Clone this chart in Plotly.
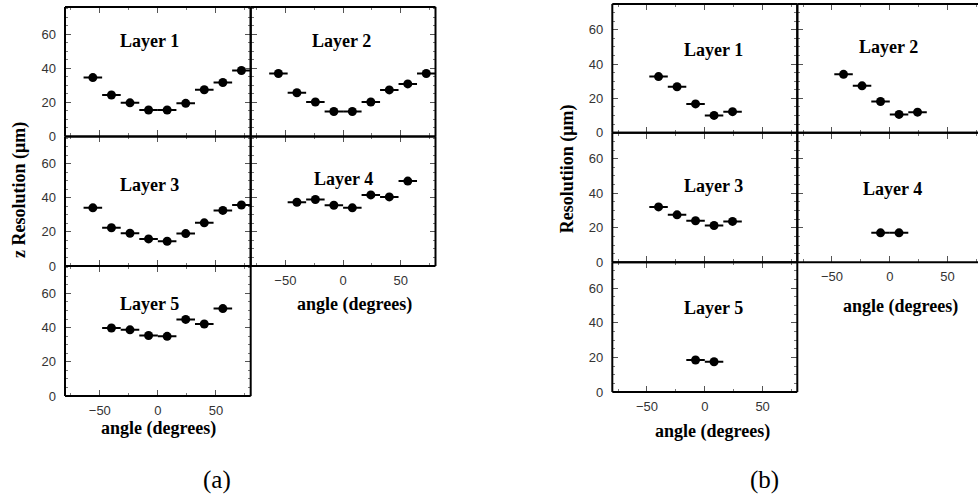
import plotly.graph_objects as go

# ---------------- data ----------------
angles_9 = [-56, -40, -24, -8, 8, 24, 40, 56, 72]
angles_7 = [-40, -24, -8, 8, 24, 40, 56]
angles_5 = [-40, -24, -8, 8, 24]
angles_2 = [-8, 8]
bin_half_width = 8

a_layer1 = [34.5, 24.3, 19.7, 15.5, 15.5, 19.4, 27.4, 31.6, 38.7]
a_layer2 = [36.9, 25.6, 20.2, 14.6, 14.6, 20.2, 27.3, 30.8, 36.9]
a_layer3 = [34.1, 22.4, 19.2, 15.9, 14.5, 19.0, 25.3, 32.6, 35.8]
a_layer4 = [37.4, 39.0, 35.6, 34.1, 41.7, 40.5, 49.8]
a_layer5 = [39.8, 38.7, 35.4, 34.9, 44.8, 42.1, 51.1]

b_layer1 = [32.7, 26.8, 16.8, 10.1, 12.3]
b_layer2 = [34.0, 27.3, 18.2, 10.7, 12.0]
b_layer3 = [32.1, 27.5, 24.1, 21.3, 23.7]
b_layer4 = [17.1, 17.1]
b_layer5 = [18.5, 17.5]

layer_names = ["Layer 1", "Layer 2", "Layer 3", "Layer 4", "Layer 5"]
x_ticks = [-50, 0, 50]
y_ticks = [0, 20, 40, 60]

# ---------------- layout helpers ----------------
W, H = 978, 503
def fx(px):
    return px / W
def fy(py):
    return 1 - py / H

SERIF = "'Liberation Serif', 'Times New Roman', serif"
SANS = "'Liberation Sans', Arial, sans-serif"

a_cols = [(65, 250.7), (250.7, 435.5)]
a_rows = [(7, 138.6), (138.6, 270.3), (270.3, 402.5)]
b_cols = [(612.3, 797.3), (797.3, 978)]
b_rows = [(4, 134.9), (134.9, 266.6), (266.6, 398.3)]

panels = [
    (angles_9, a_layer1, 0, a_cols[0], a_rows[0], [-80, 80], [0, 76], False, True, (-7, 56), True),
    (angles_9, a_layer2, 1, a_cols[1], a_rows[0], [-80, 80], [0, 76], False, False, (-1, 56), True),
    (angles_9, a_layer3, 2, a_cols[0], a_rows[1], [-80, 80], [0, 76], False, True, (-7, 47.5), True),
    (angles_7, a_layer4, 3, a_cols[1], a_rows[1], [-80, 80], [0, 76], True, False, (0, 51), True),
    (angles_7, a_layer5, 4, a_cols[0], a_rows[2], [-80, 80], [0, 76], True, True, (-7, 54), True),
    (angles_5, b_layer1, 0, b_cols[0], b_rows[0], [-80, 80], [0, 75], False, True, (7.5, 48), True),
    (angles_5, b_layer2, 1, b_cols[1], b_rows[0], [-80, 76.3], [0, 75], False, False, (-1.5, 50), False),
    (angles_5, b_layer3, 2, b_cols[0], b_rows[1], [-80, 80], [0, 75], False, True, (7.5, 44), True),
    (angles_2, b_layer4, 3, b_cols[1], b_rows[1], [-80, 76.3], [0, 75], True, False, (2, 42.7), False),
    (angles_2, b_layer5, 4, b_cols[0], b_rows[2], [-80, 80], [0, 75], True, True, (7.5, 48.7), True),
]

fig = go.Figure()
layout = dict(
    width=W, height=H,
    margin=dict(l=0, r=0, t=0, b=0),
    paper_bgcolor="white", plot_bgcolor="white",
    showlegend=False,
)
annotations = []
shapes = []

def frame_line(xa, ya, xb, yb):
    shapes.append(dict(type="line", xref="paper", yref="paper",
                       x0=fx(xa), y0=fy(ya), x1=fx(xb), y1=fy(yb),
                       line=dict(color="black", width=2), layer="above"))

for i, (xs, ys, li, (x0, x1), (y0, y1), xr, yr, showx, showy, lpos, right_side) in enumerate(panels):
    n = i + 1
    xa = "xaxis" if n == 1 else f"xaxis{n}"
    ya = "yaxis" if n == 1 else f"yaxis{n}"
    xref = "x" if n == 1 else f"x{n}"
    yref = "y" if n == 1 else f"y{n}"
    fig.add_trace(go.Scatter(
        x=xs, y=ys, mode="markers",
        marker=dict(color="black", size=9),
        error_x=dict(type="constant", value=bin_half_width, color="black", thickness=2, width=0),
        xaxis=xref, yaxis=yref, cliponaxis=False,
    ))
    layout[xa] = dict(
        domain=[fx(x0), fx(x1)], range=xr, anchor=yref,
        showline=False, mirror="ticks",
        ticks="inside", ticklen=6, tickwidth=1, tickcolor="#555",
        tickvals=x_ticks, showticklabels=showx,
        ticktext=[("\u2212" + str(abs(v))) if v < 0 else str(v) for v in x_ticks],
        tickfont=dict(family=SANS, size=13, color="#333"),
        ticklabelstandoff=5,
        minor=dict(tickvals=[-75, -25, 25, 75], ticks="inside", ticklen=3, tickcolor="#777"),
        showgrid=False, zeroline=False, fixedrange=True,
    )
    layout[ya] = dict(
        domain=[fy(y1), fy(y0)], range=yr, anchor=xref,
        showline=False,
        mirror="ticks" if right_side else False,
        ticks="inside", ticklen=6, tickwidth=1, tickcolor="#555",
        tickvals=y_ticks, showticklabels=showy,
        tickfont=dict(family=SANS, size=13, color="#333"),
        ticklabelstandoff=8,
        minor=dict(dtick=5, tick0=0, ticks="inside", ticklen=3, tickcolor="#777"),
        showgrid=False, zeroline=False, fixedrange=True,
    )
    # frame
    frame_line(x0, y0, x1, y0)
    frame_line(x0, y1, x1, y1)
    frame_line(x0, y0, x0, y1)
    if right_side:
        frame_line(x1, y0, x1, y1)
    annotations.append(dict(
        x=lpos[0], y=lpos[1], xref=xref, yref=yref,
        text=f"<b>{layer_names[li]}</b>", showarrow=False,
        font=dict(family=SERIF, size=18, color="black"),
    ))

def bold_label(text, px, py, angle=0, size=18):
    annotations.append(dict(
        x=fx(px), y=fy(py), xref="paper", yref="paper",
        text=f"<b>{text}</b>", showarrow=False, textangle=angle,
        xanchor="center", yanchor="middle",
        font=dict(family=SERIF, size=size, color="black"),
    ))

bold_label("angle (degrees)", 158, 435.5)
bold_label("angle (degrees)", 354, 309.5)
bold_label("angle (degrees)", 712, 438)
bold_label("angle (degrees)", 900, 311)
bold_label("z Resolution (\u03bcm)", 20, 193, angle=-90)
bold_label("Resolutiion (\u03bcm)", 567, 172, angle=-90)

for txt, px in (("(a)", 216.5), ("(b)", 764)):
    annotations.append(dict(
        x=fx(px), y=fy(488), xref="paper", yref="paper",
        text=txt, showarrow=False, xanchor="center", yanchor="middle",
        font=dict(family=SERIF, size=25, color="black"),
    ))

layout["annotations"] = annotations
layout["shapes"] = shapes
fig.update_layout(**layout)
fig.write_html("out.html")
